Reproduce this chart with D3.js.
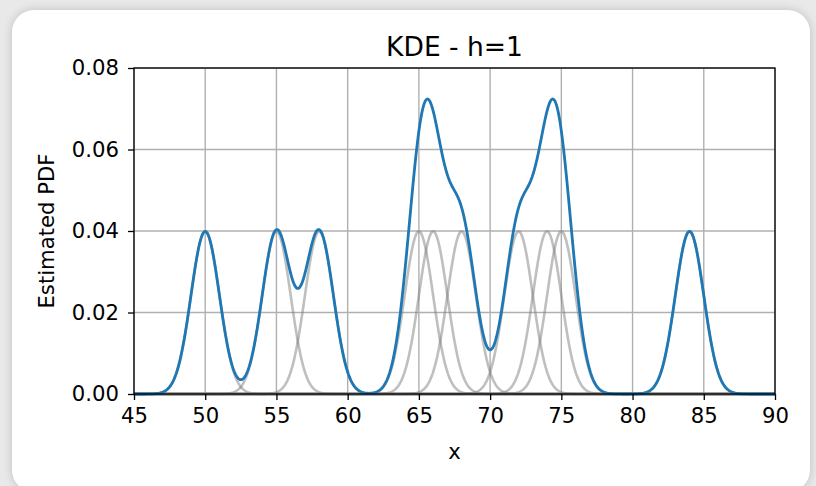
<!DOCTYPE html>
<html>
<head>
<meta charset="utf-8" />
<title>KDE - h=1</title>
<style>
html, body {
    padding: 0px;
    margin: 0px;
    width: 816px;
    height: 486px;
    overflow: hidden;
    background: #e9e9e9;
}
#card {
    position: absolute;
    left: 12px;
    top: 10px;
    width: 798px;
    height: 482px;
    background: #fff;
    border-radius: 22px;
    box-shadow: 0 0 10px rgba(0,0,0,0.18);
}
svg {
    position: absolute;
    left: 0;
    top: 0;
    font-family: "DejaVu Sans", sans-serif;
}
</style>
</head>
<body>
<div id="card"></div>
<svg id="chart" width="816" height="486"></svg>

<script src="https://cdnjs.cloudflare.com/ajax/libs/d3/7.8.5/d3.min.js"></script>
<script>
!(function(){
    "use strict"

    // sample points read from the gray kernels
    var samples = [50, 55, 58, 65, 66, 68, 72, 74, 75, 84];
    var bandwidth = 1;
    var xTicks = [45, 50, 55, 60, 65, 70, 75, 80, 85, 90];
    var yTicks = [0.00, 0.02, 0.04, 0.06, 0.08];

    var margin = {left: 134, right: 41, top: 68, bottom: 92};
    var W = 816, H = 486;

    var svg = d3.select("#chart");

    var x = d3.scaleLinear().domain([45, 90]).range([margin.left, W - margin.right]);
    var y = d3.scaleLinear().domain([0, 0.08]).range([H - margin.bottom, margin.top]);

    var n = samples.length;
    var gridX = d3.range(45, 90.001, 0.05);

    function kernel(u) {
        return Math.exp(-0.5 * u * u) / Math.sqrt(2 * Math.PI);
    }

    function single(s) {
        return gridX.map(function(v){ return [v, kernel((v - s) / bandwidth) / (n * bandwidth)]; });
    }

    var total = gridX.map(function(v){
        return [v, d3.sum(samples, function(s){ return kernel((v - s) / bandwidth); }) / (n * bandwidth)];
    });

    var line = d3.line().x(function(d){ return x(d[0]); }).y(function(d){ return y(d[1]); });

    var plot = svg.append("g");

    // grid
    plot.selectAll("line.gx").data(xTicks).enter().append("line")
        .attr("x1", x).attr("x2", x)
        .attr("y1", y(0)).attr("y2", y(0.08))
        .attr("stroke", "#b0b0b0").attr("stroke-width", 1.4);
    plot.selectAll("line.gy").data(yTicks).enter().append("line")
        .attr("y1", y).attr("y2", y)
        .attr("x1", x(45)).attr("x2", x(90))
        .attr("stroke", "#b0b0b0").attr("stroke-width", 1.4);

    // single kernels
    plot.selectAll("path.k").data(samples).enter().append("path")
        .attr("d", function(s){ return line(single(s)); })
        .attr("fill", "none")
        .attr("stroke", "#808080")
        .attr("stroke-opacity", 0.5)
        .attr("stroke-width", 2.6);

    // total estimate
    plot.append("path")
        .attr("d", line(total))
        .attr("fill", "none")
        .attr("stroke", "#1f77b4")
        .attr("stroke-width", 2.8)
        .attr("stroke-linejoin", "round");

    // axes
    var xAxis = d3.axisBottom(x).tickValues(xTicks).tickFormat(d3.format("d")).tickSizeOuter(0).tickSize(6).tickPadding(8);
    var yAxis = d3.axisLeft(y).tickValues(yTicks).tickFormat(d3.format(".2f")).tickSizeOuter(0).tickSize(6).tickPadding(9);

    var gx = svg.append("g").attr("transform", "translate(0," + y(0) + ")").call(xAxis);
    var gy = svg.append("g").attr("transform", "translate(" + x(45) + ",0)").call(yAxis);
    [gx, gy].forEach(function(g){
        g.attr("font-size", 21.2).attr("font-family", "DejaVu Sans, sans-serif");
        g.select(".domain").remove();
        g.selectAll(".tick line").attr("stroke", "#000").attr("stroke-width", 1.3);
        g.selectAll(".tick text").attr("fill", "#000");
    });

    // frame
    svg.append("rect")
        .attr("x", x(45)).attr("y", y(0.08))
        .attr("width", x(90) - x(45)).attr("height", y(0) - y(0.08))
        .attr("fill", "none").attr("stroke", "#000").attr("stroke-width", 1.3);

    svg.append("text")
        .attr("x", (x(45) + x(90)) / 2).attr("y", 56)
        .attr("text-anchor", "middle").attr("font-size", 26.5)
        .text("KDE - h=1");

    svg.append("text")
        .attr("x", (x(45) + x(90)) / 2).attr("y", 459)
        .attr("text-anchor", "middle").attr("font-size", 21.2)
        .text("x");

    svg.append("text")
        .attr("transform", "translate(54," + ((y(0) + y(0.08)) / 2) + ") rotate(-90)")
        .attr("text-anchor", "middle").attr("font-size", 21.2)
        .text("Estimated PDF");
}());
</script>
</body>
</html>
